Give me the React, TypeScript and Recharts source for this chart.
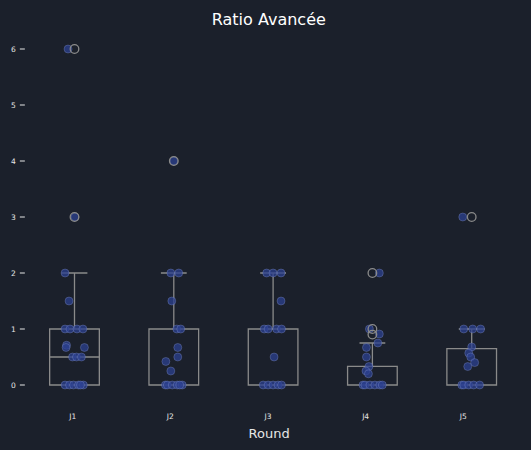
import { ComposedChart, Scatter, XAxis, YAxis } from 'recharts';

const rounds = ['J1', 'J2', 'J3', 'J4', 'J5'];
const yTicks = [0, 1, 2, 3, 4, 5, 6];

// box stats per round
const q1 = [0, 0, 0, 0, 0];
const medians = [0.5, 0, 0, 0, 0];
const q3 = [1, 1, 1, 0.333, 0.65];
const whiskerLow = [0, 0, 0, 0, 0];
const whiskerHigh = [2, 2, 2, 0.75, 1];
const outliers = [[3, 6], [4], [], [0.9, 1, 2], [3]];

// strip points (value + horizontal jitter in category units)
const valuesJ1 = [6, 3, 2, 1.5, 1, 1, 1, 1, 0.71, 0.67, 0.67, 0.5, 0.5, 0.5, 0, 0, 0, 0, 0, 0];
const jitterJ1 = [-0.065, 0.005, -0.095, -0.055, -0.095, -0.045, 0.025, 0.085, -0.08, -0.085, 0.1, -0.02, 0.02, 0.07, -0.095, -0.05, -0.01, 0.04, 0.09, 0.06];
const valuesJ2 = [4, 2, 2, 1.5, 1, 1, 0.67, 0.5, 0.42, 0.25, 0, 0, 0, 0, 0, 0];
const jitterJ2 = [0, -0.03, 0.05, -0.02, 0.03, 0.07, 0.04, 0.04, -0.08, -0.03, -0.085, -0.065, -0.015, 0.035, 0.085, 0.06];
const valuesJ3 = [2, 2, 2, 1.5, 1, 1, 1, 1, 0.5, 0, 0, 0, 0, 0];
const jitterJ3 = [-0.065, 0, 0.08, 0.08, -0.09, -0.05, 0.035, 0.085, 0.01, -0.1, -0.05, 0, 0.05, 0.085];
const valuesJ4 = [2, 1, 0.91, 0.75, 0.67, 0.5, 0.33, 0.25, 0.2, 0, 0, 0, 0, 0, 0];
const jitterJ4 = [0.07, -0.03, 0.07, 0.055, -0.06, -0.06, -0.035, -0.065, -0.04, -0.095, -0.075, -0.025, 0.025, 0.075, 0.1];
const valuesJ5 = [3, 1, 1, 1, 0.68, 0.57, 0.5, 0.4, 0.33, 0, 0, 0, 0, 0];
const jitterJ5 = [-0.09, -0.08, 0.01, 0.09, 0, -0.03, -0.01, 0.03, -0.04, -0.1, -0.08, -0.03, 0.02, 0.08];

const stripValues = [valuesJ1, valuesJ2, valuesJ3, valuesJ4, valuesJ5];
const stripJitter = [jitterJ1, jitterJ2, jitterJ3, jitterJ4, jitterJ5];

const BG = '#1b202b';
const BOX = '#8a8a8a';
const TXT = '#e6e6e6';

const BOX_HALF = 0.25;
const CAP_HALF = 0.13;

// outline of one box + whiskers, traced as a single joint line
const boxPath = (i: number) => {
  const lo = q1[i], hi = q3[i], md = medians[i], wl = whiskerLow[i], wh = whiskerHigh[i];
  return [
    { x: i - CAP_HALF, y: wh }, { x: i + CAP_HALF, y: wh }, { x: i, y: wh },
    { x: i, y: hi }, { x: i + BOX_HALF, y: hi }, { x: i + BOX_HALF, y: lo },
    { x: i - BOX_HALF, y: lo }, { x: i - BOX_HALF, y: hi }, { x: i, y: hi },
    { x: i - BOX_HALF, y: hi }, { x: i - BOX_HALF, y: md }, { x: i + BOX_HALF, y: md },
    { x: i + BOX_HALF, y: lo }, { x: i, y: lo }, { x: i, y: wl },
    { x: i - CAP_HALF, y: wl }, { x: i + CAP_HALF, y: wl },
  ];
};

const stripData = stripValues.flatMap((vals, i) =>
  vals.map((v, k) => ({ x: i + stripJitter[i][k], y: v }))
);
const outlierData = outliers.flatMap((vals, i) => vals.map((v) => ({ x: i, y: v })));

const Dot = ({ cx, cy }: any) => (
  <circle cx={cx} cy={cy} r={4} fill="#2c4090" fillOpacity={0.75} stroke="#9aaae0" strokeOpacity={0.4} strokeWidth={0.7} />
);

const Ring = ({ cx, cy }: any) => (
  <circle cx={cx} cy={cy} r={4.3} fill="none" stroke={BOX} strokeWidth={1.3} />
);

const XTick = ({ x, y, payload }: any) => (
  <text x={x - 1.8 - 1.65 * payload.value} y={y} dy={17.2} textAnchor="middle" fill={TXT} fontSize={7.5}>
    {rounds[payload.value]}
  </text>
);

export default function App() {
  return (
    <div style={{ position: 'absolute', left: 0, top: 0, width: 531, height: 450, background: BG, fontFamily: 'DejaVu Sans' }}>
      <div style={{ position: 'absolute', left: 0, top: 10, width: 537.6, textAlign: 'center', color: '#ffffff', fontSize: 16, lineHeight: 'normal' }}>
        Ratio Avancée
      </div>
      <ComposedChart width={531} height={450} margin={{ top: 32.2, right: 9.65, bottom: 0, left: 0 }}>
        <XAxis
          dataKey="x"
          type="number"
          domain={[-0.5, 4.5]}
          ticks={[0, 1, 2, 3, 4]}
          allowDataOverflow
          axisLine={false}
          tickLine={false}
          tickSize={0}
          tickMargin={0}
          height={48.2}
          tick={<XTick />}
          label={{ value: 'Round', position: 'insideBottom', offset: 12.5, dx: -4, fill: TXT, fontSize: 13 }}
        />
        <YAxis
          dataKey="y"
          type="number"
          domain={[-0.3, 6.3]}
          ticks={yTicks}
          allowDataOverflow
          width={24.85}
          axisLine={false}
          tickSize={5}
          tickMargin={4}
          tickLine={{ stroke: TXT }}
          tick={{ fill: TXT, fontSize: 7.5 }}
        />
        {rounds.map((r, i) => (
          <Scatter
            key={r}
            data={boxPath(i)}
            line={{ stroke: BOX, strokeWidth: 1.3 }}
            lineType="joint"
            shape={() => <g />}
            isAnimationActive={false}
          />
        ))}
        <Scatter data={stripData} shape={<Dot />} isAnimationActive={false} />
        <Scatter data={outlierData} shape={<Ring />} isAnimationActive={false} />
      </ComposedChart>
    </div>
  );
}
